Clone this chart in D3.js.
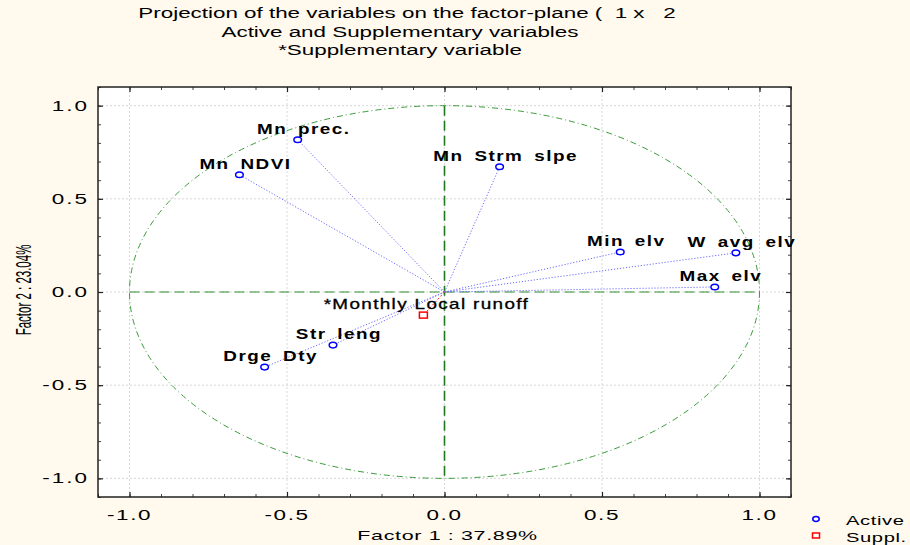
<!DOCTYPE html>
<html>
<head>
<meta charset="utf-8">
<script src="https://cdn.jsdelivr.net/npm/d3@7"></script>
<style>
  body { margin: 0; background: #fff9ee; }
  svg { display: block; }
</style>
</head>
<body>
<div id="chart"></div>
<script>
// variable loadings
const activeNames = ["Mn prec.", "Mn NDVI", "Mn Strm slpe", "Min elv", "W avg elv", "Max elv", "Str leng", "Drge Dty"];
const factor1 = [-0.466, -0.651, 0.175, 0.558, 0.925, 0.858, -0.354, -0.571];
const factor2 = [0.817, 0.629, 0.672, 0.215, 0.210, 0.027, -0.285, -0.403];

const supplNames = ["*Monthly Local runoff"];
const supplF1 = [-0.067];
const supplF2 = [-0.124];

const tickValues = [-1.0, -0.5, 0.0, 0.5, 1.0];
const titleLines = ["Projection of the variables on the factor-plane (  1 x   2", "Active and Supplementary variables", "*Supplementary variable"];

const width = 910, height = 545;
const margin = {top: 87, left: 98, right: 120, bottom: 48};
const sx = 1.55; // the original is stretched sideways, text too

const svg = d3.select("#chart").append("svg")
    .attr("width", width)
    .attr("height", height)
    .style("background", "#fff9ee");

const x = d3.scaleLinear().domain([-1.1, 1.1]).range([margin.left, width - margin.right + 1]);
const y = d3.scaleLinear().domain([-1.1, 1.1]).range([height - margin.bottom, margin.top]);
const fmt = d => d.toFixed(1); // plain hyphen for minus, like the original

// plot area
svg.append("rect")
    .attr("x", x(-1.1)).attr("y", y(1.1))
    .attr("width", x(1.1) - x(-1.1)).attr("height", y(-1.1) - y(1.1))
    .attr("fill", "white");

// grid
svg.append("g").selectAll("line").data(tickValues).join("line")
    .attr("x1", d => x(d)).attr("x2", d => x(d))
    .attr("y1", y(1.1)).attr("y2", y(-1.1))
    .attr("stroke", "#d8d8d8").attr("stroke-dasharray", "2,2");
svg.append("g").selectAll("line").data(tickValues).join("line")
    .attr("y1", d => y(d)).attr("y2", d => y(d))
    .attr("x1", x(-1.1)).attr("x2", x(1.1))
    .attr("stroke", "#d8d8d8").attr("stroke-dasharray", "2,2");

// unit circle
svg.append("ellipse")
    .attr("cx", x(0)).attr("cy", y(0))
    .attr("rx", x(1) - x(0)).attr("ry", y(0) - y(1))
    .attr("fill", "none").attr("stroke", "#3a9a3a")
    .attr("stroke-dasharray", "6,3,1,3");

// zero lines
svg.append("line")
    .attr("x1", x(-1)).attr("x2", x(1)).attr("y1", y(0)).attr("y2", y(0))
    .attr("stroke", "#2e8b2e").attr("stroke-width", 1.2).attr("stroke-dasharray", "10,5");
svg.append("line")
    .attr("x1", x(0)).attr("x2", x(0)).attr("y1", y(1)).attr("y2", y(-1))
    .attr("stroke", "#1f7a1f").attr("stroke-width", 1.6).attr("stroke-dasharray", "10,5");

// axes with inward ticks on all four sides
const minor = d3.range(-11, 12).map(d => d / 10);
const axisPos = [
  `translate(0,${y(-1.1)})`, `translate(0,${y(1.1)})`,
  `translate(${x(-1.1)},0)`, `translate(${x(1.1)},0)`
];
const makeAxes = (vals, size) => [
  d3.axisBottom(x).tickValues(vals).tickSize(-size).tickFormat(""),
  d3.axisTop(x).tickValues(vals).tickSize(-size).tickFormat(""),
  d3.axisLeft(y).tickValues(vals).tickSize(-size).tickFormat(""),
  d3.axisRight(y).tickValues(vals).tickSize(-size).tickFormat("")
];
makeAxes(minor, 3).forEach((a, i) => {
  const g = svg.append("g").attr("transform", axisPos[i]).call(a);
  g.select(".domain").remove();
  g.selectAll("line").attr("stroke", "#444");
});
makeAxes(tickValues, 5).forEach((a, i) => {
  const g = svg.append("g").attr("transform", axisPos[i]).call(a);
  g.select(".domain").remove();
  g.selectAll("line").attr("stroke", "#222").attr("stroke-width", 1.2);
});

// frame
svg.append("rect")
    .attr("x", x(-1.1)).attr("y", y(1.1))
    .attr("width", x(1.1) - x(-1.1)).attr("height", y(-1.1) - y(1.1))
    .attr("fill", "none").attr("stroke", "#222").attr("stroke-width", 1.5);

// tick labels
const font = "'Liberation Sans', Arial, sans-serif";
svg.append("g").selectAll("text").data(tickValues).join("text")
    .attr("transform", d => `translate(${x(d)},${y(-1.1) + 23}) scale(${sx},1)`)
    .attr("text-anchor", "middle")
    .attr("font-family", font).attr("font-size", 14.5).attr("letter-spacing", 1)
    .text(fmt);
svg.append("g").selectAll("text").data(tickValues).join("text")
    .attr("transform", d => `translate(${x(-1.1) - 9},${y(d) + 5}) scale(${sx},1)`)
    .attr("text-anchor", "end")
    .attr("font-family", font).attr("font-size", 14.5).attr("letter-spacing", 1.3)
    .text(fmt);

// axis titles
svg.append("text")
    .attr("transform", `translate(${x(0) + 3},540) scale(1.65,1)`)
    .attr("text-anchor", "middle")
    .attr("font-family", font).attr("font-size", 13).attr("letter-spacing", 0.4)
    .text("Factor 1 : 37.89%");
svg.append("text")
    .attr("transform", `translate(31,290) scale(1.95,1) rotate(-90)`)
    .attr("text-anchor", "middle")
    .attr("font-family", font)
    .attr("font-size", 11.5)
    .text("Factor 2 : 23.04%");

// title
svg.append("g").selectAll("text").data(titleLines).join("text")
    .attr("transform", (d, i) => `translate(${i === 0 ? 407 : 400},${18 + i * 18.5}) scale(1.6,1)`)
    .attr("text-anchor", "middle")
    .attr("xml:space", "preserve")
    .style("white-space", "pre")
    .attr("font-family", font).attr("font-size", 14)
    .text(d => d);

// vectors
svg.append("g").selectAll("line").data(activeNames).join("line")
    .attr("x1", x(0)).attr("y1", y(0))
    .attr("x2", (d, i) => x(factor1[i])).attr("y2", (d, i) => y(factor2[i]))
    .attr("stroke", "#6b6bff").attr("stroke-width", 1).attr("stroke-dasharray", "1.2,1.8");
svg.append("g").selectAll("line").data(supplNames).join("line")
    .attr("x1", x(0)).attr("y1", y(0))
    .attr("x2", (d, i) => x(supplF1[i])).attr("y2", (d, i) => y(supplF2[i]))
    .attr("stroke", "#ff2020").attr("stroke-width", 1).attr("stroke-dasharray", "2,2");

svg.append("g").selectAll("ellipse").data(activeNames).join("ellipse")
    .attr("cx", (d, i) => x(factor1[i])).attr("cy", (d, i) => y(factor2[i]))
    .attr("rx", 3.8).attr("ry", 2.8)
    .attr("fill", "white").attr("stroke", "#0000ff").attr("stroke-width", 1.5);
svg.append("g").selectAll("rect").data(supplNames).join("rect")
    .attr("x", (d, i) => x(supplF1[i]) - 4).attr("y", (d, i) => y(supplF2[i]) - 3)
    .attr("width", 8).attr("height", 6)
    .attr("fill", "white").attr("stroke", "#ff0000").attr("stroke-width", 1.5);

svg.append("g").selectAll("text").data(activeNames).join("text")
    .attr("transform", (d, i) => `translate(${x(factor1[i]) + 6},${y(factor2[i]) - 6}) scale(1.35,1)`)
    .attr("text-anchor", "middle")
    .attr("font-family", font).attr("font-weight", "bold").attr("font-size", 14)
    .attr("letter-spacing", 1.1).attr("word-spacing", 3)
    .text(d => d);
svg.append("g").selectAll("text").data(supplNames).join("text")
    .attr("transform", (d, i) => `translate(${x(supplF1[i]) + 3},${y(supplF2[i]) - 6}) scale(1.35,1)`)
    .attr("text-anchor", "middle")
    .attr("font-family", font).attr("font-size", 14)
    .attr("letter-spacing", 1).attr("stroke", "black").attr("stroke-width", 0.3)
    .text(d => d);

// legend
const legendNames = ["Active", "Suppl."];
const legend = svg.append("g");
legend.append("ellipse").attr("cx", 816).attr("cy", 519).attr("rx", 3.2).attr("ry", 2.4)
    .attr("fill", "white").attr("stroke", "#0000ff").attr("stroke-width", 1.5);
legend.append("rect").attr("x", 812.5).attr("y", 533).attr("width", 7).attr("height", 5)
    .attr("fill", "white").attr("stroke", "#ff0000").attr("stroke-width", 1.5);
legend.selectAll("text").data(legendNames).join("text")
    .attr("transform", (d, i) => `translate(846,${525 + i * 17}) scale(${sx},1)`)
    .attr("font-family", font).attr("font-size", 13).attr("letter-spacing", 0.4)
    .text(d => d);
</script>
</body>
</html>
